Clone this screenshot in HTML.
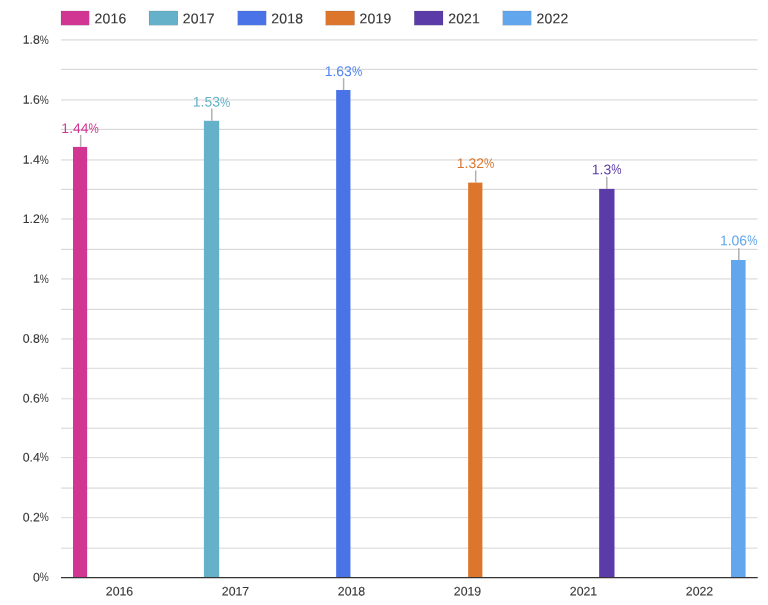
<!DOCTYPE html>
<html lang="en">
<head>
<meta charset="utf-8">
<title>Chart</title>
<style>
html,body{margin:0;padding:0;background:#fff;}
body{width:768px;height:605px;overflow:hidden;}
svg{display:block;}
text{font-family:"Liberation Sans",sans-serif;text-rendering:geometricPrecision;}
.ax{font-size:12.3px;fill:#363636;stroke:#363636;stroke-width:0.12px;}
.lg{font-size:14px;fill:#363636;stroke:#363636;stroke-width:0.14px;letter-spacing:0.2px;}
.vl{font-size:14px;}
</style>
</head>
<body>
<svg width="768" height="605" viewBox="0 0 768 605">
<rect x="0" y="0" width="768" height="605" fill="#ffffff"/>

<g>
<rect x="61" y="547.53" width="696.6" height="1.35" fill="#e1e1e1"/>
<rect x="61" y="516.93" width="696.6" height="1.35" fill="#e1e1e1"/>
<rect x="61" y="487.28" width="696.6" height="1.65" fill="#e5e5e5"/>
<rect x="61" y="457.08" width="696.6" height="1.05" fill="#dcdcdc"/>
<rect x="61" y="427.57" width="696.6" height="1.45" fill="#e1e1e1"/>
<rect x="61" y="397.83" width="696.6" height="1.55" fill="#e5e5e5"/>
<rect x="61" y="367.72" width="696.6" height="1.35" fill="#e1e1e1"/>
<rect x="61" y="338.07" width="696.6" height="1.65" fill="#e5e5e5"/>
<rect x="61" y="308.82" width="696.6" height="1.15" fill="#d8d8d8"/>
<rect x="61" y="278.07" width="696.6" height="1.65" fill="#e5e5e5"/>
<rect x="61" y="248.83" width="696.6" height="1.15" fill="#d8d8d8"/>
<rect x="61" y="218.18" width="696.6" height="1.65" fill="#e5e5e5"/>
<rect x="61" y="188.83" width="696.6" height="1.15" fill="#d8d8d8"/>
<rect x="61" y="159.08" width="696.6" height="1.65" fill="#e5e5e5"/>
<rect x="61" y="128.83" width="696.6" height="1.15" fill="#d8d8d8"/>
<rect x="61" y="99.08" width="696.6" height="1.65" fill="#e5e5e5"/>
<rect x="61" y="68.83" width="696.6" height="1.15" fill="#d8d8d8"/>
<rect x="61" y="39.07" width="696.6" height="1.65" fill="#e5e5e5"/>
</g>
<g class="ax" text-anchor="end">
<text transform="translate(48.80,581.40) matrix(1 0.0005 0 1 0 0)">0<tspan textLength="9.01" lengthAdjust="spacingAndGlyphs" stroke="none">%</tspan></text>
<text transform="translate(48.80,521.50) matrix(1 0.0005 0 1 0 0)">0.2<tspan textLength="9.01" lengthAdjust="spacingAndGlyphs" stroke="none">%</tspan></text>
<text transform="translate(48.80,461.50) matrix(1 0.0005 0 1 0 0)">0.4<tspan textLength="9.01" lengthAdjust="spacingAndGlyphs" stroke="none">%</tspan></text>
<text transform="translate(48.80,402.50) matrix(1 0.0005 0 1 0 0)">0.6<tspan textLength="9.01" lengthAdjust="spacingAndGlyphs" stroke="none">%</tspan></text>
<text transform="translate(48.80,342.80) matrix(1 0.0005 0 1 0 0)">0.8<tspan textLength="9.01" lengthAdjust="spacingAndGlyphs" stroke="none">%</tspan></text>
<text transform="translate(48.80,282.80) matrix(1 0.0005 0 1 0 0)">1<tspan textLength="9.01" lengthAdjust="spacingAndGlyphs" stroke="none">%</tspan></text>
<text transform="translate(48.80,222.90) matrix(1 0.0005 0 1 0 0)">1.2<tspan textLength="9.01" lengthAdjust="spacingAndGlyphs" stroke="none">%</tspan></text>
<text transform="translate(48.80,163.80) matrix(1 0.0005 0 1 0 0)">1.4<tspan textLength="9.01" lengthAdjust="spacingAndGlyphs" stroke="none">%</tspan></text>
<text transform="translate(48.80,103.80) matrix(1 0.0005 0 1 0 0)">1.6<tspan textLength="9.01" lengthAdjust="spacingAndGlyphs" stroke="none">%</tspan></text>
<text transform="translate(48.80,43.80) matrix(1 0.0005 0 1 0 0)">1.8<tspan textLength="9.01" lengthAdjust="spacingAndGlyphs" stroke="none">%</tspan></text>
</g>
<rect x="73.00" y="146.90" width="14.15" height="430.60" fill="#d23693"/>
<line x1="80.65" x2="80.65" y1="135.00" y2="146.90" stroke="#b2b2b2" stroke-width="1.5"/>
<text transform="translate(80.10,133.00) matrix(1 0.0005 0 1 0 0)" class="vl" text-anchor="middle" fill="#d23693">1.44<tspan textLength="10.25" lengthAdjust="spacingAndGlyphs" stroke="none">%</tspan></text>
<rect x="203.90" y="120.80" width="15.30" height="456.70" fill="#64b1c9"/>
<line x1="211.80" x2="211.80" y1="108.60" y2="120.80" stroke="#b2b2b2" stroke-width="1.5"/>
<text transform="translate(211.50,106.60) matrix(1 0.0005 0 1 0 0)" class="vl" text-anchor="middle" fill="#64b1c9">1.53<tspan textLength="10.25" lengthAdjust="spacingAndGlyphs" stroke="none">%</tspan></text>
<rect x="336.15" y="90.00" width="14.30" height="487.50" fill="#4a73e8"/>
<line x1="343.60" x2="343.60" y1="78.10" y2="90.00" stroke="#b2b2b2" stroke-width="1.5"/>
<text transform="translate(343.40,76.00) matrix(1 0.0005 0 1 0 0)" class="vl" text-anchor="middle" fill="#4f84f0">1.63<tspan textLength="10.25" lengthAdjust="spacingAndGlyphs" stroke="none">%</tspan></text>
<rect x="468.15" y="182.60" width="14.25" height="394.90" fill="#db762c"/>
<line x1="475.70" x2="475.70" y1="170.40" y2="182.60" stroke="#b2b2b2" stroke-width="1.5"/>
<text transform="translate(475.50,168.10) matrix(1 0.0005 0 1 0 0)" class="vl" text-anchor="middle" fill="#db762c">1.32<tspan textLength="10.25" lengthAdjust="spacingAndGlyphs" stroke="none">%</tspan></text>
<rect x="599.15" y="188.90" width="15.35" height="388.60" fill="#5b3ba8"/>
<line x1="606.80" x2="606.80" y1="176.75" y2="188.90" stroke="#b2b2b2" stroke-width="1.5"/>
<text transform="translate(606.65,174.25) matrix(1 0.0005 0 1 0 0)" class="vl" text-anchor="middle" fill="#5b3ba8">1.3<tspan textLength="10.25" lengthAdjust="spacingAndGlyphs" stroke="none">%</tspan></text>
<rect x="731.00" y="260.00" width="14.60" height="317.50" fill="#62a6ee"/>
<line x1="738.80" x2="738.80" y1="248.10" y2="260.00" stroke="#b2b2b2" stroke-width="1.5"/>
<text transform="translate(738.65,245.30) matrix(1 0.0005 0 1 0 0)" class="vl" text-anchor="middle" fill="#62a6ee">1.06<tspan textLength="10.25" lengthAdjust="spacingAndGlyphs" stroke="none">%</tspan></text>
<line x1="61" x2="757.7" y1="577.55" y2="577.55" stroke="#333333" stroke-width="1.15"/>
<g class="ax" text-anchor="middle">
<text transform="translate(119.50,595.45) matrix(1 0.0005 0 1 0 0)">2016</text>
<text transform="translate(235.50,595.45) matrix(1 0.0005 0 1 0 0)">2017</text>
<text transform="translate(351.50,595.45) matrix(1 0.0005 0 1 0 0)">2018</text>
<text transform="translate(467.50,595.45) matrix(1 0.0005 0 1 0 0)">2019</text>
<text transform="translate(583.50,595.45) matrix(1 0.0005 0 1 0 0)">2021</text>
<text transform="translate(699.50,595.45) matrix(1 0.0005 0 1 0 0)">2022</text>
</g>
<g class="lg">
<rect x="61.00" y="11" width="28.1" height="14.1" fill="#d23693"/>
<text transform="translate(94.50,23.35) matrix(1 0.0005 0 1 0 0)">2016</text>
<rect x="149.05" y="11" width="28.8" height="14.1" fill="#64b1c9"/>
<text transform="translate(182.85,23.35) matrix(1 0.0005 0 1 0 0)">2017</text>
<rect x="237.80" y="11" width="28.3" height="14.1" fill="#4a73e8"/>
<text transform="translate(271.25,23.35) matrix(1 0.0005 0 1 0 0)">2018</text>
<rect x="325.80" y="11" width="28.7" height="14.1" fill="#db762c"/>
<text transform="translate(359.50,23.35) matrix(1 0.0005 0 1 0 0)">2019</text>
<rect x="414.30" y="11" width="28.7" height="14.1" fill="#5b3ba8"/>
<text transform="translate(448.15,23.35) matrix(1 0.0005 0 1 0 0)">2021</text>
<rect x="502.90" y="11" width="28.2" height="14.1" fill="#62a6ee"/>
<text transform="translate(536.50,23.35) matrix(1 0.0005 0 1 0 0)">2022</text>
</g>
</svg>
</body>
</html>
